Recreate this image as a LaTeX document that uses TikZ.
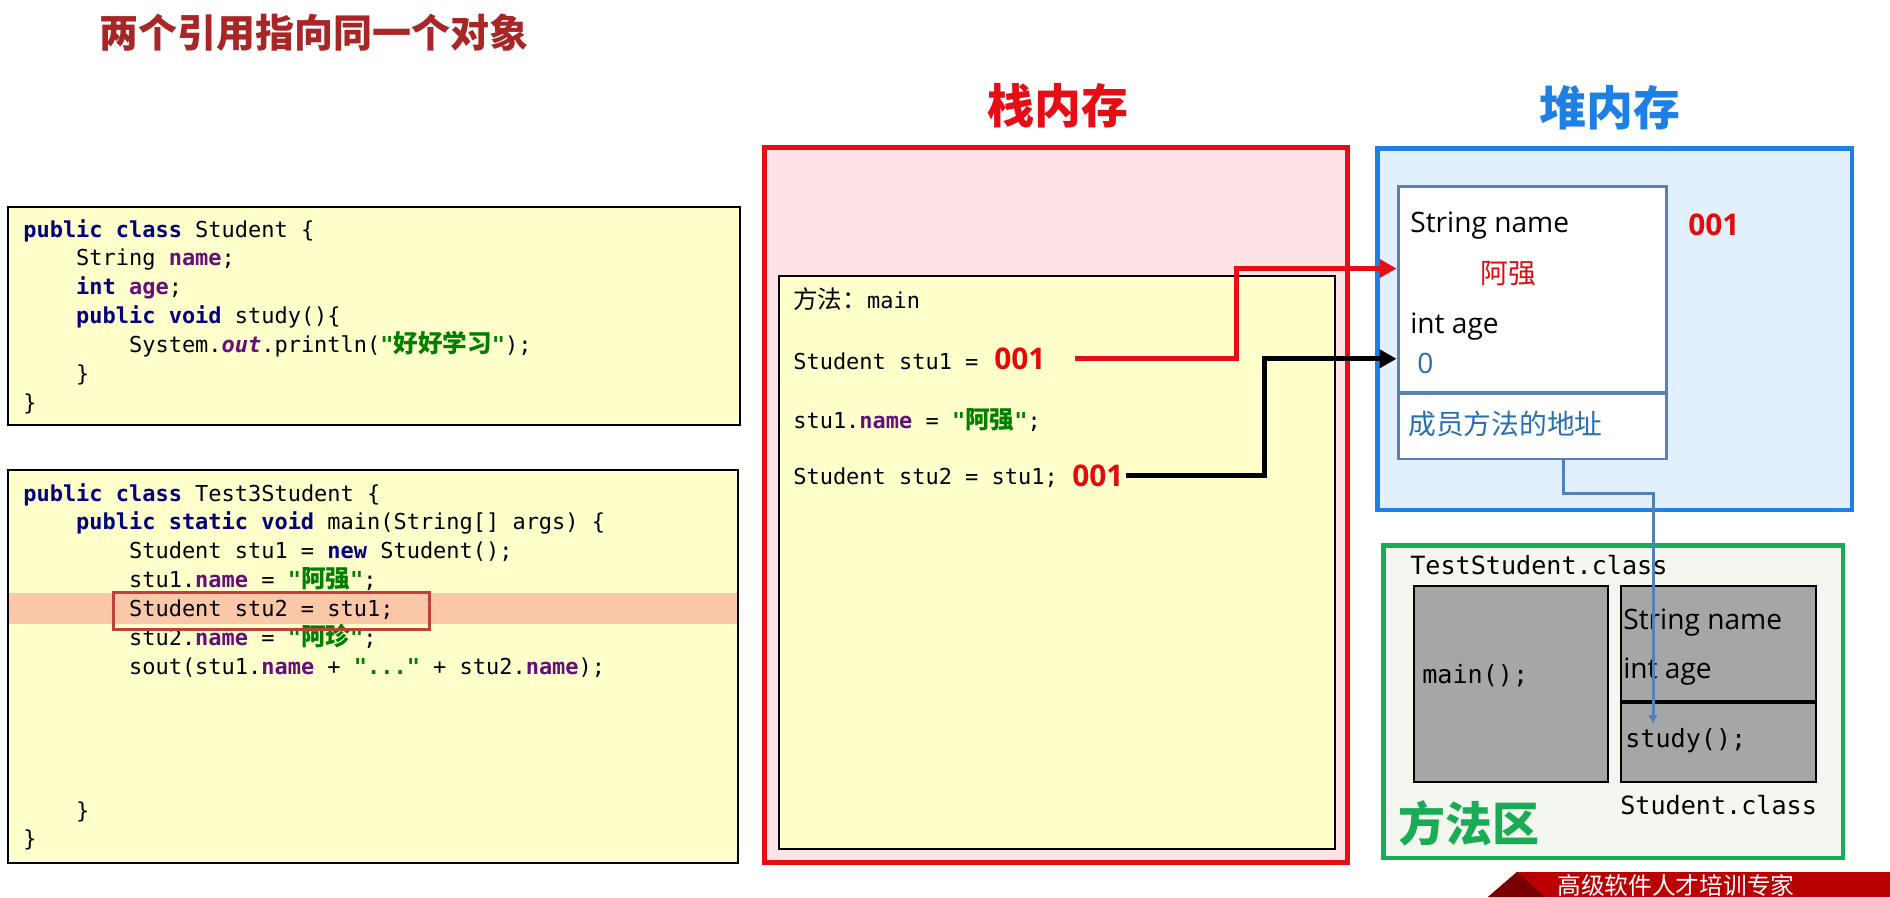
\documentclass[tikz,border=0pt]{standalone}
\usepackage{fontspec}
\setmainfont{Open Sans}
\setmonofont{DejaVu Sans Mono}
\newfontfamily\cjk{Noto Sans CJK SC}
\newfontfamily\cjkmono[Scale=1.12]{Noto Sans CJK SC}
\usetikzlibrary{positioning}
\usetikzlibrary{arrows.meta}
\usetikzlibrary{calc}

\definecolor{kwblue}{RGB}{0,0,128}
\definecolor{fieldpurple}{RGB}{102,14,122}
\definecolor{strgreen}{RGB}{0,128,0}
\definecolor{codebg}{RGB}{255,255,204}
\definecolor{titlered}{RGB}{168,38,38}
\definecolor{hlband}{RGB}{250,200,168}
\definecolor{hlred}{RGB}{192,64,60}
\definecolor{stackred}{RGB}{228,14,20}
\definecolor{stackbg}{RGB}{253,227,230}
\definecolor{heapblue}{RGB}{30,128,228}
\definecolor{heapbg}{RGB}{226,240,253}
\definecolor{objblue}{RGB}{91,128,182}
\definecolor{textblue}{RGB}{40,110,180}
\definecolor{areagreen}{RGB}{26,172,84}
\definecolor{areabg}{RGB}{243,247,239}
\definecolor{classgrey}{RGB}{166,166,166}
\definecolor{addrred}{RGB}{226,10,10}
\definecolor{linkblue}{RGB}{79,129,189}
\definecolor{bannerred}{RGB}{186,0,0}
\definecolor{bannerdark}{RGB}{120,0,0}

\newcommand{\jkw}[1]{\textcolor{kwblue}{\bfseries #1}}
\newcommand{\jfld}[1]{\textcolor{fieldpurple}{\bfseries #1}}
\newcommand{\jstr}[1]{\textcolor{strgreen}{\bfseries #1}}
\newcommand{\zh}[1]{{\cjkmono #1}}
\newcommand{\ind}{\hspace*{2.408em}}

\tikzset{
  code/.style={font=\ttfamily\fontsize{12.5pt}{15pt}\selectfont, inner sep=0pt, anchor=base west},
  classcode/.style={font=\ttfamily\fontsize{14.3pt}{17pt}\selectfont, inner sep=0pt, anchor=base west},
  field/.style={font=\fontsize{16pt}{19pt}\selectfont, inner sep=0pt, anchor=base west},
  addr/.style={font=\bfseries\fontsize{17pt}{20pt}\selectfont, text=addrred, inner sep=0pt, anchor=base west},
  bigtitle/.style={font=\cjk\bfseries\fontsize{26.7pt}{30pt}\selectfont, inner sep=0pt},
  panel/.style={draw, inner sep=0pt},
  ref/.style={line width=2.8pt, -{Triangle[length=3.4mm, width=3.6mm]}},
}

\begin{document}
\begin{tikzpicture}[x=0.02cm, y=-0.02cm]
    \useasboundingbox (0,0) rectangle (1890,897);

    % title
    \node[font=\cjk\bfseries\fontsize{22.2pt}{26pt}\selectfont, text=titlered, anchor=west, inner sep=0pt] (title) at (99,33) {两个引用指向同一个对象};

    % class Student
    \node[panel, fill=codebg, line width=1.2pt, minimum width=14.64cm, minimum height=4.36cm] (clsbox) at (374,316) {};
    \foreach \src [count=\i] in {
        {\jkw{public class} Student \{},
        {\ind String \jfld{name};},
        {\ind\jkw{int} \jfld{age};},
        {\ind\jkw{public void} study()\{},
        {\ind\ind System.\jfld{\itshape out}.println(\jstr{"\zh{好好学习}"});},
        {\ind\}},
        {\}}}
        \node[code] (cls-\i) at (23,{237+28.9*(\i-1)}) {\src};

    % class Test3Student
    \node[panel, fill=codebg, line width=1.2pt, minimum width=14.6cm, minimum height=7.86cm] (testbox) at (373,666.5) {};
    \node[fill=hlband, inner sep=0pt, minimum width=14.56cm, minimum height=0.62cm] (band) at (373,608.5) {};
    \foreach \src [count=\i] in {
        {\jkw{public class} Test3Student \{},
        {\ind\jkw{public static void} main(String[] args) \{},
        {\ind\ind Student stu1 = \jkw{new} Student();},
        {\ind\ind stu1.\jfld{name} = \jstr{"\zh{阿强}"};},
        {\ind\ind Student stu2 = stu1;},
        {\ind\ind stu2.\jfld{name} = \jstr{"\zh{阿珍}"};},
        {\ind\ind sout(stu1.\jfld{name} + \jstr{"..."} + stu2.\jfld{name});}}
        \node[code] (test-\i) at (23,{501+28.9*(\i-1)}) {\src};
    \node[code] (test-end1) at (23,818) {\ind\}};
    \node[code] (test-end2) at (23,846) {\}};
    \node[panel, draw=hlred, line width=1.7pt, minimum width=6.34cm, minimum height=0.74cm] (hlbox) at (271.5,610.5) {};

    % stack
    \node[bigtitle, text=stackred] (stacktitle) at (1058,106) {栈内存};
    \node[panel, draw=stackred, fill=stackbg, line width=2.8pt, minimum width=11.68cm, minimum height=14.32cm] (stack) at (1056,505) {};
    \node[panel, fill=codebg, line width=1.1pt, minimum width=11.12cm, minimum height=11.46cm] (frame) at (1057,562.5) {};
    \node[code] (framename) at (793,308) {{\cjkmono 方法：}main};
    \node[code] (stu1) at (793,369) {Student stu1 =};
    \node[addr] (v1) at (994,369) {001};
    \node[code] (setname) at (793,428) {stu1.\jfld{name} = \jstr{"\zh{阿强}"};};
    \node[code] (stu2) at (793,484) {Student stu2 = stu1;};
    \node[addr] (v2) at (1072,486) {001};

    % heap
    \node[bigtitle, text=heapblue] (heaptitle) at (1610,108) {堆内存};
    \node[panel, draw=heapblue, fill=heapbg, line width=2.8pt, minimum width=9.5cm, minimum height=7.24cm] (heap) at (1614.5,329) {};
    \node[panel, draw=objblue, fill=white, line width=1.7pt, minimum width=5.38cm, minimum height=4.14cm] (objfields) at (1532.5,289.5) {};
    \node[panel, draw=objblue, fill=white, line width=1.7pt, minimum width=5.38cm, minimum height=1.32cm] (objaddr) at (1532.5,426) {};
    \node[field] (fname) at (1410,232) {String name};
    \node[font=\cjk\fontsize{15.8pt}{19pt}\selectfont, text=addrred, inner sep=0pt] (hname) at (1508,274) {阿强};
    \node[field] (fage) at (1410,333) {int age};
    \node[field, text=textblue] (hage) at (1417,373) {0};
    \node[font=\cjk\fontsize{15.8pt}{19pt}\selectfont, text=textblue, anchor=west, inner sep=0pt] (haddr) at (1408,424) {成员方法的地址};
    \node[addr] (objid) at (1688,235) {001};

    % method area
    \node[panel, draw=areagreen, fill=areabg, line width=2.8pt, minimum width=9.2cm, minimum height=6.26cm] (area) at (1613,701.5) {};
    \node[classcode] (testcls) at (1410,574) {TestStudent.class};
    \node[panel, fill=classgrey, line width=1.1pt, minimum width=3.88cm, minimum height=3.92cm] (mainm) at (1511,684) {};
    \node[panel, fill=classgrey, line width=1.1pt, minimum width=3.9cm, minimum height=2.3cm] (cfields) at (1718.5,643.5) {};
    \node[panel, fill=classgrey, line width=1.1pt, minimum width=3.9cm, minimum height=1.62cm] (cstudy) at (1718.5,741.5) {};
    \draw[line width=2.3pt] (cfields.south west) -- (cfields.south east);
    \node[classcode] (mainmtxt) at (1422,683) {main();};
    \node[field] (cfname) at (1623,629) {String name};
    \node[field] (cfage) at (1623,678) {int age};
    \node[classcode] (cstudytxt) at (1625,747) {study();};
    \node[classcode] (stucls) at (1620,814) {Student.class};
    \node[bigtitle, text=areagreen, anchor=west] (areaname) at (1398,823) {方法区};

    % footer band
    \fill[bannerred] (1517,872) -- (1890,872) -- (1890,897) -- (1488,897) -- cycle;
    \fill[bannerdark] (1517,872) -- (1545,897) -- (1488,897) -- cycle;
    \node[font=\cjk\fontsize{13.5pt}{16pt}\selectfont, text=white, anchor=west, inner sep=0pt] (banner) at (1557,885) {高级软件人才培训专家};

    % references
    \coordinate (studycall) at (1653,724);
    \draw[ref, stackred] ([xshift=0.58cm]v1.east) -- ++(162,0) |- ($(objfields.north west)!0.4!(objfields.south west)$);
    \draw[ref, black] ([xshift=0.04cm]v2.east) -- ++(139,0) |- ($(objfields.north west)!0.83!(objfields.south west)$);
    \draw[line width=1.7pt, linkblue, -{Latex[length=1.8mm, width=2mm]}] ($(objaddr.south west)!0.613!(objaddr.south east)$) -- ++(0,33) -| (studycall);
\end{tikzpicture}
\end{document}
